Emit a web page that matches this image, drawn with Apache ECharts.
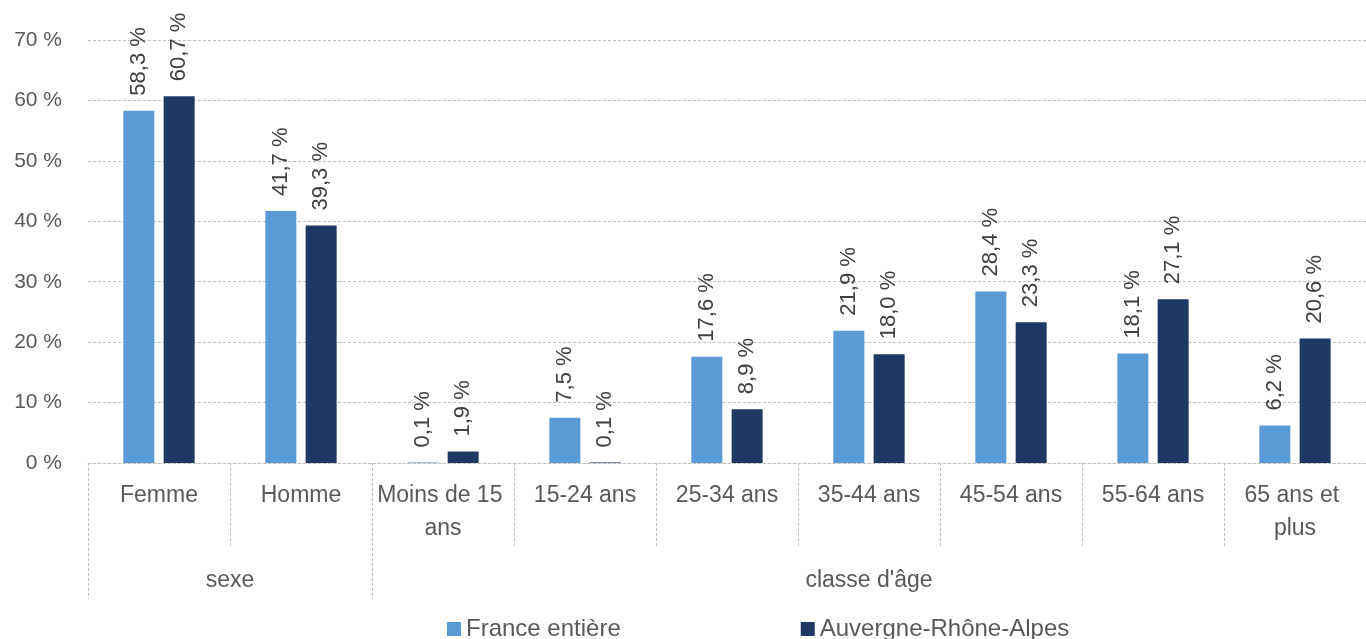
<!DOCTYPE html>
<html>
<head>
<meta charset="utf-8">
<script src="https://cdn.jsdelivr.net/npm/echarts@6/dist/echarts.min.js"></script>
<style>
html,body{margin:0;padding:0;background:#fff;}
#chart{width:1366px;height:639px;}
</style>
</head>
<body>
<div id="chart"></div>
<script>
var categories = ['Femme', 'Homme', 'Moins de 15 ans', '15-24 ans', '25-34 ans', '35-44 ans', '45-54 ans', '55-64 ans', '65 ans et plus'];
var groups = [{name: 'sexe', span: 2}, {name: "classe d'âge", span: 7}];
var seriesNames = ['France entière', 'Auvergne-Rhône-Alpes'];
var franceValues = [58.3, 41.7, 0.1, 7.5, 17.6, 21.9, 28.4, 18.1, 6.2];
var araValues = [60.7, 39.3, 1.9, 0.1, 8.9, 18.0, 23.3, 27.1, 20.6];
var yTicks = [0, 10, 20, 30, 40, 50, 60, 70];

// half-step axis for group labels / separators
var groupAxisData = [];
for (var i = 0; i <= categories.length * 2; i++) groupAxisData.push('');
var groupTickIdx = [], groupLabelIdx = [];
var start = 0;
groups.forEach(function (g) {
  groupTickIdx.push(start * 2);
  groupLabelIdx.push(start * 2 + g.span);
  groupAxisData[start * 2 + g.span] = g.name;
  start += g.span;
});
groupTickIdx.push(start * 2);

function fmt(v) { return v.toFixed(1).replace('.', ',') + ' %'; }

var textColor = '#595959';
var lineColor = '#bfbfbf';
var font = 'Liberation Sans';

var labelOpt = {
  show: true, position: 'top', rotate: 90, align: 'left', verticalAlign: 'middle',
  distance: 15, color: '#404040', fontSize: 22, fontFamily: font,
  formatter: function (p) { return fmt(p.value); }
};

var chart = echarts.init(document.getElementById('chart'), null, {renderer: 'canvas'});
chart.setOption({
  animation: false,
  backgroundColor: '#ffffff',
  grid: {left: 88, right: 0, top: 40, bottom: 176, containLabel: false},
  legend: {
    left: 442, top: 612, itemWidth: 14, itemHeight: 14, itemGap: 180,
    icon: 'rect',
    textStyle: {color: textColor, fontSize: 24, fontFamily: font},
    data: seriesNames
  },
  xAxis: [{
    type: 'category', data: categories, boundaryGap: true,
    axisLine: {show: true, lineStyle: {color: lineColor, type: [3, 2], width: 1}},
    axisTick: {show: true, length: 85, lineStyle: {color: lineColor, type: [3, 2]}},
    axisLabel: {
      color: textColor, fontSize: 23, fontFamily: font, margin: 16, lineHeight: 33,
      width: 136, overflow: 'break', interval: 0
    },
    splitLine: {show: false}
  }, {
    type: 'category', data: groupAxisData, boundaryGap: false, position: 'bottom',
    axisLine: {show: false},
    axisTick: {show: true, length: 136, interval: function (i) { return groupTickIdx.indexOf(i) >= 0; },
      lineStyle: {color: lineColor, type: [3, 2]}},
    axisLabel: {
      color: textColor, fontSize: 23, fontFamily: font, margin: 106,
      interval: function (i) { return groupLabelIdx.indexOf(i) >= 0; }
    },
    splitLine: {show: false}
  }],
  yAxis: {
    type: 'value', min: yTicks[0], max: yTicks[yTicks.length - 1], interval: yTicks[1] - yTicks[0],
    axisLine: {show: false}, axisTick: {show: false},
    axisLabel: {color: textColor, fontSize: 21, fontFamily: font, margin: 26,
      formatter: function (v) { return v + ' %'; }},
    splitLine: {show: true, lineStyle: {color: lineColor, type: [3, 2], width: 1}}
  },
  series: [{
    name: seriesNames[0], type: 'bar', xAxisIndex: 0, data: franceValues,
    barWidth: 31, barGap: '30%',
    itemStyle: {color: '#5b9bd5'}, label: labelOpt
  }, {
    name: seriesNames[1], type: 'bar', xAxisIndex: 0, data: araValues,
    barWidth: 31, barGap: '30%',
    itemStyle: {color: '#203864'}, label: labelOpt
  }]
});
</script>
</body>
</html>
